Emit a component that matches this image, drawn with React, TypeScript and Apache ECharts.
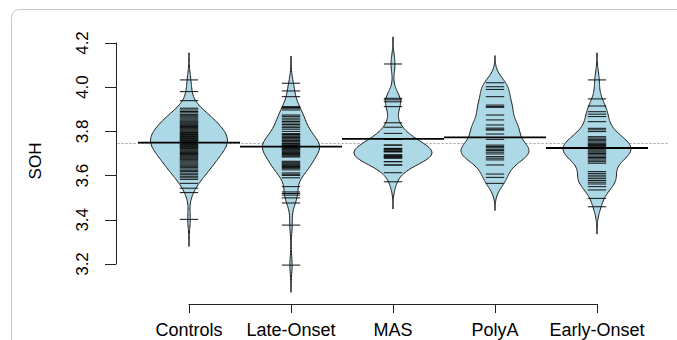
import React, { useEffect, useRef } from "react";
import * as echarts from "echarts";

const categories = ["Controls", "Late-Onset", "MAS", "PolyA", "Early-Onset"];
const yTicks = [3.2, 3.4, 3.6, 3.8, 4.0, 4.2];

const controls = [
  4.033, 3.98, 3.939,
  3.905, 3.897, 3.89, 3.884,
  3.877, 3.871, 3.866, 3.861,
  3.856, 3.851, 3.846, 3.842, 3.838,
  3.834, 3.83, 3.826, 3.822, 3.818, 3.814,
  3.81, 3.806, 3.802, 3.798, 3.795, 3.792,
  3.789, 3.786, 3.783, 3.78, 3.777, 3.774, 3.771,
  3.768, 3.765, 3.762, 3.759, 3.756, 3.753, 3.75, 3.747,
  3.744, 3.741, 3.738, 3.735, 3.732, 3.729, 3.726,
  3.723, 3.72, 3.716, 3.712, 3.708, 3.704, 3.7,
  3.696, 3.692, 3.688, 3.684, 3.68, 3.676,
  3.672, 3.667, 3.662, 3.657, 3.652,
  3.647, 3.642, 3.636, 3.63, 3.624,
  3.618, 3.611, 3.604, 3.597,
  3.59, 3.583,
  3.565, 3.543, 3.523, 3.402,
];

const lateOnset = [
  4.018, 3.983, 3.957,
  3.912, 3.908, 3.905, 3.897,
  3.874, 3.868,
  3.86, 3.852, 3.845, 3.838, 3.831, 3.824, 3.817, 3.81,
  3.8, 3.79, 3.786, 3.783, 3.776, 3.772, 3.769, 3.762, 3.758, 3.755, 3.748,
  3.745, 3.742, 3.738, 3.736, 3.734, 3.73, 3.728, 3.726, 3.722, 3.719,
  3.716, 3.712, 3.708, 3.704, 3.7, 3.696, 3.692, 3.688, 3.684,
  3.665, 3.661, 3.657, 3.653, 3.649, 3.645, 3.641, 3.637, 3.633, 3.626,
  3.612, 3.606, 3.601, 3.59,
  3.55,
  3.526, 3.519, 3.512,
  3.499, 3.476,
  3.376,
  3.195,
];

const mas = [
  4.105,
  3.95, 3.943, 3.934, 3.912,
  3.839, 3.819, 3.791,
  3.764, 3.764, 3.764, 3.764,
  3.738, 3.738,
  3.723, 3.723,
  3.716, 3.716, 3.716,
  3.708, 3.708, 3.708,
  3.693, 3.693, 3.693,
  3.686, 3.686,
  3.68, 3.68, 3.68,
  3.663, 3.663,
  3.648, 3.648,
  3.613, 3.572,
];

const polyA = [
  4.02, 4.002, 3.99,
  3.957,
  3.919, 3.912, 3.909,
  3.874, 3.852, 3.829,
  3.815, 3.81, 3.806,
  3.788,
  3.764,
  3.738, 3.732, 3.726, 3.719,
  3.713, 3.706, 3.698,
  3.686, 3.679, 3.671,
  3.648, 3.607, 3.592, 3.565,
];

const earlyOnset = [
  4.033, 3.947, 3.915,
  3.889, 3.878, 3.867,
  3.844,
  3.814, 3.807, 3.799,
  3.776, 3.77, 3.764, 3.758, 3.752, 3.746, 3.741, 3.736, 3.731, 3.726, 3.721,
  3.716, 3.711, 3.706, 3.7, 3.694, 3.688, 3.682, 3.676, 3.67, 3.663, 3.656,
  3.618, 3.61, 3.602, 3.594, 3.586, 3.578, 3.57, 3.562, 3.55,
  3.535,
  3.497, 3.459,
];

const groupMeans = [3.749, 3.731, 3.766, 3.773, 3.725];
const overallMean = 3.745;
const bandwidth = 0.041;

const groups = [controls, lateOnset, mas, polyA, earlyOnset];
// widest half-width of each bean, in category units
const beanHalfWidth = [0.377, 0.28, 0.382, 0.333, 0.333];

function kde(vals: number[], bw: number): [number, number][] {
  const lo = Math.min(...vals) - 3 * bw;
  const hi = Math.max(...vals) + 3 * bw;
  const n = 160;
  const out: [number, number][] = [];
  const norm = 1 / (vals.length * bw * Math.sqrt(2 * Math.PI));
  for (let i = 0; i <= n; i++) {
    const y = lo + ((hi - lo) * i) / n;
    let s = 0;
    for (const v of vals) {
      const z = (y - v) / bw;
      s += Math.exp(-0.5 * z * z);
    }
    out.push([y, s * norm]);
  }
  return out;
}

export default function App() {
  const ref = useRef<HTMLDivElement>(null);
  useEffect(() => {
    if (!ref.current) return;
    const chart = echarts.init(ref.current, undefined, { renderer: "svg" });
    const dens = groups.map((g) => kde(g, bandwidth));
    const scales = dens.map((d, i) => {
      let m = 0;
      d.forEach((p) => (m = Math.max(m, p[1])));
      return beanHalfWidth[i] / m;
    });
    const font = "'Liberation Sans', Arial, Helvetica, sans-serif";

    const option: any = {
      animation: false,
      backgroundColor: "#ffffff",
      grid: { left: 189, right: 80, top: 43, bottom: 76 },
      xAxis: {
        type: "value",
        min: 1,
        max: 5,
        interval: 1,
        offset: 40,
        axisLine: { show: true, lineStyle: { color: "#222", width: 1 } },
        axisTick: { show: true, length: 9, lineStyle: { color: "#222", width: 1 } },
        splitLine: { show: false },
        axisLabel: {
          color: "#000",
          fontSize: 18,
          fontFamily: font,
          margin: 17,
          formatter: (v: number) => categories[Math.round(v) - 1] ?? "",
        },
      },
      yAxis: {
        type: "value",
        min: 3.2,
        max: 4.2,
        interval: 0.2,
        offset: 73,
        axisLine: { show: true, lineStyle: { color: "#222", width: 1 } },
        axisTick: { show: true, length: 11, lineStyle: { color: "#222", width: 1 } },
        splitLine: { show: false },
        axisLabel: {
          color: "#000",
          fontSize: 17,
          fontFamily: font,
          rotate: 90,
          margin: 25,
          formatter: (v: number) => v.toFixed(1),
        },
      },
      graphic: [
        {
          type: "rect",
          shape: { x: 11.5, y: 9.5, width: 720, height: 400, r: 8 },
          style: { fill: "none", stroke: "#c8c8c8", lineWidth: 1 },
          silent: true,
        },
        {
          type: "text",
          x: 35,
          y: 161,
          rotation: Math.PI / 2,
          style: {
            text: "SOH",
            fill: "#000",
            fontSize: 17,
            fontFamily: font,
            align: "center",
            verticalAlign: "middle",
          },
          silent: true,
        },
      ],
      series: [
        {
          type: "custom",
          z: 1,
          clip: false,
          data: [[3, overallMean]],
          encode: { x: 0, y: 1 },
          renderItem: (params: any, api: any) => {
            const y = api.value(1);
            const a = api.coord([0.3, y]);
            const b = api.coord([5.7, y]);
            return {
              type: "line",
              shape: { x1: a[0], y1: a[1], x2: b[0], y2: b[1] },
              style: { stroke: "#999", lineWidth: 1, lineDash: [2, 2] },
            };
          },
        },
        {
          type: "custom",
          z: 2,
          clip: false,
          data: groupMeans.map((m, i) => [i + 1, m]),
          encode: { x: 0, y: 1 },
          renderItem: (params: any, api: any) => {
            const cx = api.value(0);
            const mean = api.value(1);
            const gi = Math.round(cx) - 1;
            const d = dens[gi];
            const sc = scales[gi];
            const pts: number[][] = [];
            for (let i = 0; i < d.length; i++) pts.push(api.coord([cx + d[i][1] * sc, d[i][0]]));
            for (let i = d.length - 1; i >= 0; i--) pts.push(api.coord([cx - d[i][1] * sc, d[i][0]]));
            const children: any[] = [
              {
                type: "polygon",
                shape: { points: pts },
                style: { fill: "#ADD8E6", stroke: "#1a1a1a", lineWidth: 1 },
              },
            ];
            for (const v of groups[gi]) {
              const a = api.coord([cx - 0.09, v]);
              const b = api.coord([cx + 0.09, v]);
              children.push({
                type: "line",
                shape: { x1: a[0], y1: a[1], x2: b[0], y2: b[1] },
                style: { stroke: "#111", lineWidth: 1 },
              });
            }
            const ma = api.coord([cx - 0.5, mean]);
            const mb = api.coord([cx + 0.5, mean]);
            children.push({
              type: "line",
              shape: { x1: ma[0], y1: ma[1], x2: mb[0], y2: mb[1] },
              style: { stroke: "#000", lineWidth: 1.8 },
            });
            return { type: "group", children };
          },
        },
      ],
    };
    chart.setOption(option);
    return () => chart.dispose();
  }, []);
  return (
    <div
      ref={ref}
      style={{ position: "fixed", left: 0, top: 0, width: 677, height: 340, background: "#fff" }}
    />
  );
}
